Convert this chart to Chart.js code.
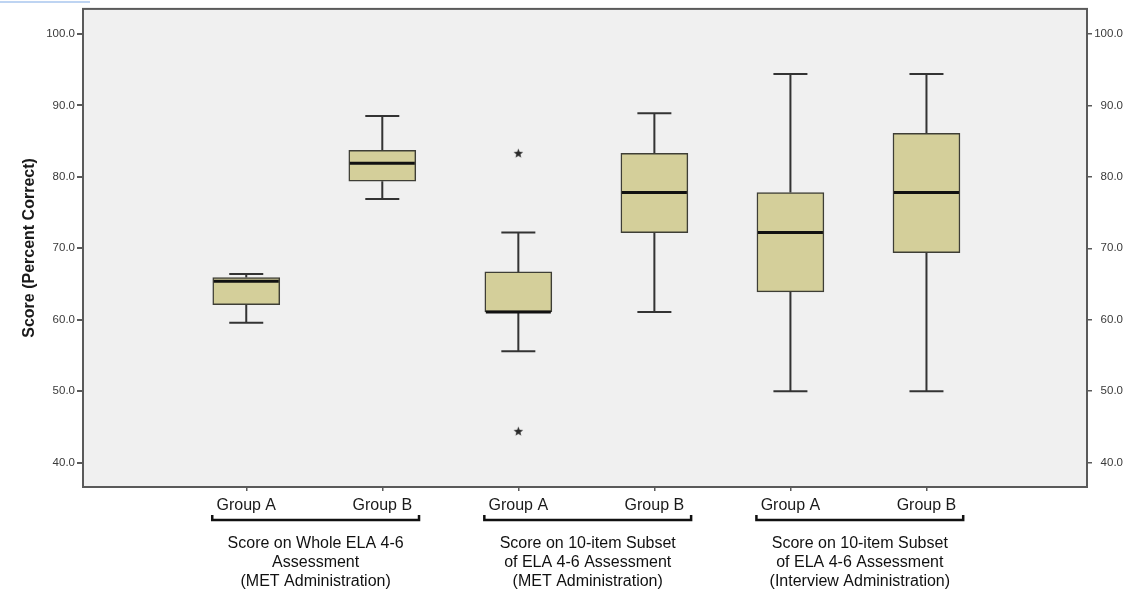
<!DOCTYPE html>
<html>
<head>
<meta charset="utf-8">
<script src="https://cdn.jsdelivr.net/npm/chart.js@4/dist/chart.umd.min.js"></script>
<style>
  html, body { margin: 0; padding: 0; background: #fff; }
  #wrap { position: relative; width: 1131px; height: 596px; }
</style>
</head>
<body>
<div id="wrap"><canvas id="boxChart" width="1131" height="596"></canvas></div>
<script>
// box plot values
const groupLabels = ['Group A', 'Group B', 'Group A', 'Group B', 'Group A', 'Group B'];
const positions = [1, 2, 3, 4, 5, 6];
const whiskerLow = [59.6, 76.9, 55.6, 61.1, 50.0, 50.0];
const q1 = [62.1, 79.4, 61.1, 72.2, 63.9, 69.4];
const median = [65.4, 81.9, 61.1, 77.8, 72.2, 77.8];
const q3 = [65.9, 83.7, 66.7, 83.3, 77.8, 86.1];
const whiskerHigh = [66.4, 88.5, 72.2, 88.9, 94.4, 94.4];
const outlierX = [3, 3];
const outlierY = [83.3, 44.4];
const yTicks = [40, 50, 60, 70, 80, 90, 100];
const sectionTitles = [
  ['Score on Whole ELA 4-6', 'Assessment', '(MET Administration)'],
  ['Score on 10-item Subset', 'of ELA 4-6 Assessment', '(MET Administration)'],
  ['Score on 10-item Subset', 'of ELA 4-6 Assessment', '(Interview Administration)']
];

const boxFill = '#d4cf9a';
const lineCol = '#333333';
const frameCol = '#5a5a5a';

// small five-pointed star for the extreme values
function makeStar() {
  const c = document.createElement('canvas');
  c.width = 11; c.height = 11;
  const g = c.getContext('2d');
  g.fillStyle = '#2a2a2a';
  g.beginPath();
  for (let k = 0; k < 10; k++) {
    const r = k % 2 === 0 ? 5 : 2.1;
    const ang = -Math.PI / 2 + k * Math.PI / 5;
    const px = 5.5 + r * Math.cos(ang);
    const py = 5.8 + r * Math.sin(ang);
    if (k === 0) g.moveTo(px, py); else g.lineTo(px, py);
  }
  g.closePath();
  g.fill();
  return c;
}

// plot background, frame, whiskers, medians, brackets, section titles
const boxExtras = {
  id: 'boxExtras',
  beforeDraw(chart) {
    const ctx = chart.ctx;
    const a = chart.chartArea;
    ctx.save();
    ctx.fillStyle = '#f0f0f0';
    ctx.fillRect(a.left, a.top, a.right - a.left, a.bottom - a.top);
    // little blue line in the top corner
    ctx.strokeStyle = '#a9c6ee';
    ctx.lineWidth = 1.5;
    ctx.beginPath();
    ctx.moveTo(0, 2);
    ctx.lineTo(90, 2);
    ctx.stroke();
    ctx.restore();
  },
  beforeDatasetsDraw(chart) {
    const ctx = chart.ctx;
    const xs = chart.scales.x;
    const ys = chart.scales.y;
    ctx.save();
    ctx.strokeStyle = lineCol;
    for (let i = 0; i < positions.length; i++) {
      const cx = xs.getPixelForValue(positions[i]);
      const capHalf = 0.125 * (xs.getPixelForValue(1) - xs.getPixelForValue(0));
      const yLo = ys.getPixelForValue(whiskerLow[i]);
      const yHi = ys.getPixelForValue(whiskerHigh[i]);
      const yQ1 = ys.getPixelForValue(q1[i]);
      const yQ3 = ys.getPixelForValue(q3[i]);
      ctx.lineWidth = 2;
      ctx.beginPath();
      ctx.moveTo(cx, yHi); ctx.lineTo(cx, yQ3);
      ctx.moveTo(cx, yQ1); ctx.lineTo(cx, yLo);
      ctx.moveTo(cx - capHalf, yHi); ctx.lineTo(cx + capHalf, yHi);
      ctx.moveTo(cx - capHalf, yLo); ctx.lineTo(cx + capHalf, yLo);
      ctx.stroke();
    }
    ctx.restore();
  },
  afterDatasetsDraw(chart) {
    const ctx = chart.ctx;
    const ys = chart.scales.y;
    const meta = chart.getDatasetMeta(0);
    ctx.save();
    ctx.strokeStyle = '#111';
    ctx.lineWidth = 3;
    meta.data.forEach((bar, i) => {
      const half = bar.width / 2;
      const my = ys.getPixelForValue(median[i]);
      ctx.beginPath();
      ctx.moveTo(bar.x - half + 1, my);
      ctx.lineTo(bar.x + half - 1, my);
      ctx.stroke();
    });
    ctx.restore();
  },
  afterDraw(chart) {
    const ctx = chart.ctx;
    const a = chart.chartArea;
    const xs = chart.scales.x;
    const unit = xs.getPixelForValue(1) - xs.getPixelForValue(0);
    ctx.save();
    ctx.strokeStyle = frameCol;
    ctx.lineWidth = 2;
    ctx.strokeRect(a.left, a.top, a.right - a.left, a.bottom - a.top);

    ctx.strokeStyle = '#111';
    ctx.lineWidth = 2.5;
    ctx.fillStyle = '#111';
    ctx.font = '16px "Liberation Sans", Arial, sans-serif';
    ctx.textAlign = 'center';
    ctx.textBaseline = 'middle';
    for (let g = 0; g < sectionTitles.length; g++) {
      const x0 = xs.getPixelForValue(positions[g * 2]) - 0.25 * unit;
      const x1 = xs.getPixelForValue(positions[g * 2 + 1]) + 0.27 * unit;
      const by = 520;
      ctx.beginPath();
      ctx.moveTo(x0, by - 5); ctx.lineTo(x0, by); ctx.lineTo(x1, by); ctx.lineTo(x1, by - 5);
      ctx.stroke();
      const mid = (x0 + x1) / 2;
      sectionTitles[g].forEach((line, k) => {
        ctx.fillText(line, mid, 543.5 + k * 18.8);
      });
    }
    ctx.restore();
  }
};

const tickFont = { family: '"Liberation Sans", Arial, sans-serif', size: 11.5 };

new Chart(document.getElementById('boxChart'), {
  type: 'bar',
  data: {
    datasets: [{
      label: 'box',
      data: positions.map((p, i) => ({ x: p, y: [q1[i], q3[i]] })),
      backgroundColor: boxFill,
      borderColor: '#3e3e36',
      borderWidth: 1.5,
      borderSkipped: false,
      barThickness: 67
    }, {
      type: 'scatter',
      label: 'outliers',
      data: outlierX.map((x, i) => ({ x: x, y: outlierY[i] })),
      pointStyle: makeStar(),
      radius: 5
    }]
  },
  options: {
    responsive: false,
    animation: false,
    layout: { padding: { top: 8, left: 0, right: 8, bottom: 0 } },
    plugins: { legend: { display: false }, tooltip: { enabled: false } },
    scales: {
      x: {
        type: 'linear',
        min: -0.2,
        max: 7.18,
        offset: false,
        afterBuildTicks: (s) => { s.ticks = positions.map(v => ({ value: v })); },
        afterFit: (s) => { s.height = 109; },
        grid: { drawOnChartArea: false, offset: false, tickLength: 4, color: frameCol, lineWidth: 1.5 },
        border: { display: true, color: frameCol, width: 2 },
        ticks: {
          autoSkip: false,
          maxRotation: 0,
          padding: 5,
          color: '#1a1a1a',
          font: { family: '"Liberation Sans", Arial, sans-serif', size: 16 },
          callback: (v) => groupLabels[positions.indexOf(v)] || ''
        }
      },
      y: {
        position: 'left',
        min: 36.6,
        max: 103.5,
        afterBuildTicks: (s) => { s.ticks = yTicks.map(v => ({ value: v })); },
        afterFit: (s) => { s.width = 83; },
        grid: { drawOnChartArea: false, tickLength: 6, color: frameCol, lineWidth: 2 },
        border: { display: true, color: frameCol, width: 2 },
        ticks: { padding: 2, color: '#3a3a3a', font: tickFont, callback: (v) => v.toFixed(1) },
        title: {
          display: true,
          text: 'Score (Percent Correct)',
          color: '#1a1a1a',
          padding: { top: 20, bottom: 0 },
          font: { family: '"Liberation Sans", Arial, sans-serif', size: 16, weight: 'bold' }
        }
      },
      y2: {
        position: 'right',
        min: 36.6,
        max: 103.5,
        afterBuildTicks: (s) => { s.ticks = yTicks.map(v => ({ value: v })); },
        afterFit: (s) => { s.width = 36; },
        grid: { drawOnChartArea: false, tickLength: 5, color: frameCol, lineWidth: 1.5 },
        border: { display: true, color: frameCol, width: 2 },
        ticks: { padding: 2, crossAlign: 'far', color: '#3a3a3a', font: tickFont, callback: (v) => v.toFixed(1) }
      }
    }
  },
  plugins: [boxExtras]
});
</script>
</body>
</html>
